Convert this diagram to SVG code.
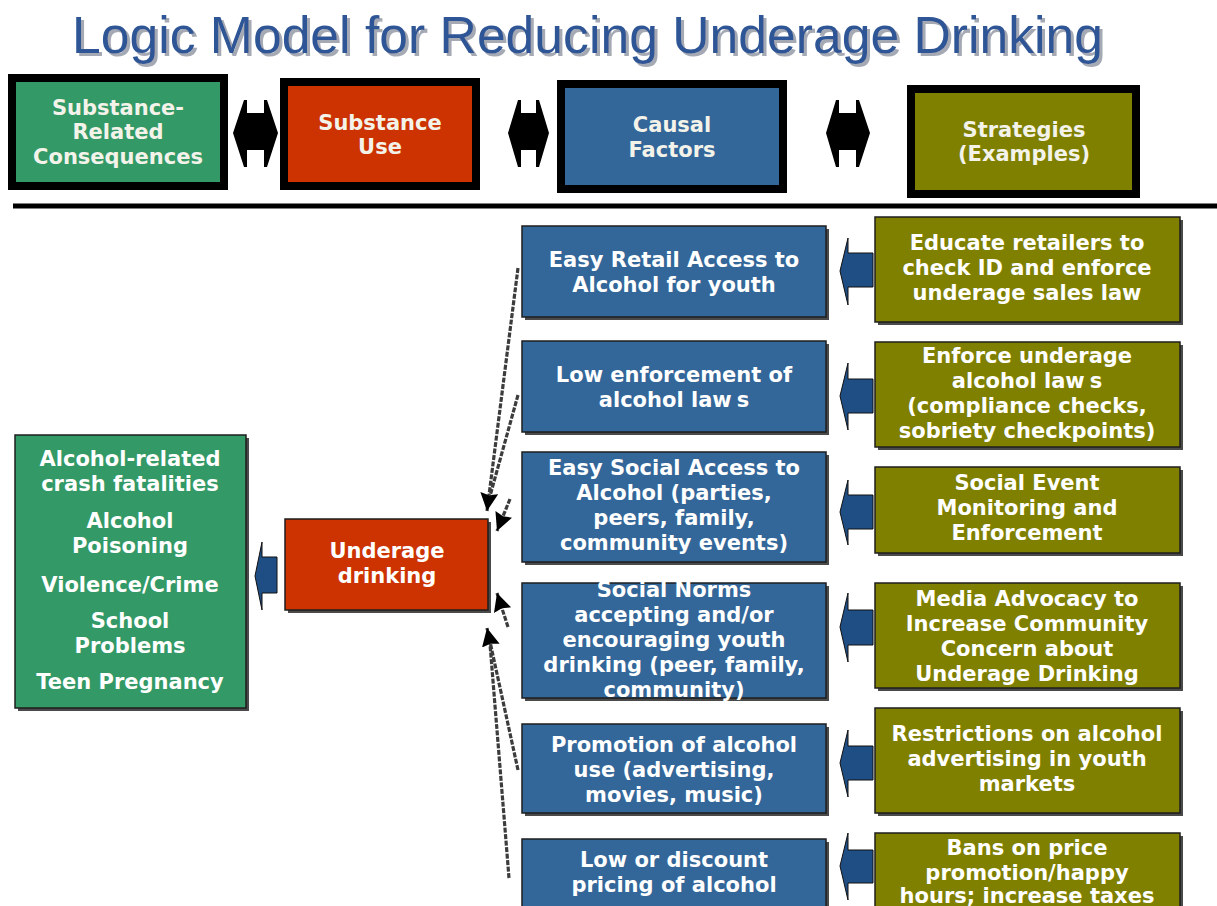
<svg xmlns="http://www.w3.org/2000/svg" width="1217" height="906" viewBox="0 0 1217 906">
  <style>
    .t { font-family: "DejaVu Sans", Verdana, sans-serif; font-weight: bold; font-size: 21px; fill: #ffffff; text-anchor: middle; }
    .hdr { fill: #f3f3ea; }
    .title { font-family: "Liberation Sans", Arial, sans-serif; font-size: 52px; fill: #2f5595; }
    .hbox { stroke: #000000; stroke-width: 8; }
    .box { stroke: #1e1e1e; stroke-width: 1.5; }
    .shadow { fill: #4a4a4a; }
    .green { fill: #339966; }
    .red { fill: #cc3300; }
    .blue { fill: #336699; }
    .olive { fill: #808000; }
    .dbl { fill: #000000; }
    .blk { fill: #1f4e85; stroke: #111111; stroke-width: 1; }
    .dash { fill: none; stroke: #3c3c3c; stroke-width: 3.2; stroke-dasharray: 5 1.5; }
  </style>
  <defs>
    <marker id="head" markerUnits="userSpaceOnUse" markerWidth="22" markerHeight="20" refX="18" refY="9" orient="auto">
      <path d="M0,0 L18,9 L0,18 L2,9 z" fill="#000000"/>
    </marker>
    <filter id="title-shadow" x="-5%" y="-20%" width="110%" height="150%">
      <feDropShadow dx="3" dy="3" stdDeviation="0.6" flood-color="#9aa0ab" flood-opacity="0.9"/>
    </filter>
  </defs>

  <rect width="1217" height="906" fill="#ffffff"/>

  <!-- title -->
  <g id="title">
    <text class="title" x="72" y="53" textLength="1031" lengthAdjust="spacingAndGlyphs" filter="url(#title-shadow)">Logic Model for Reducing Underage Drinking</text>
  </g>

  <!-- header row -->
  <g id="hdr-consequences">
    <rect class="hbox green" x="12" y="78" width="212" height="108"/>
    <text class="t hdr" x="118" y="115">Substance-</text>
    <text class="t hdr" x="118" y="139">Related</text>
    <text class="t hdr" x="118" y="164">Consequences</text>
  </g>
  <g id="hdr-use">
    <rect class="hbox red" x="284" y="82" width="192" height="104"/>
    <text class="t hdr" x="380" y="130">Substance</text>
    <text class="t hdr" x="380" y="154">Use</text>
  </g>
  <g id="hdr-factors">
    <rect class="hbox blue" x="561" y="84" width="222" height="105"/>
    <text class="t hdr" x="672" y="132">Causal</text>
    <text class="t hdr" x="672" y="157">Factors</text>
  </g>
  <g id="hdr-strategies">
    <rect class="hbox olive" x="911" y="89" width="225" height="105"/>
    <text class="t hdr" x="1024" y="137">Strategies</text>
    <text class="t hdr" x="1024" y="161">(Examples)</text>
  </g>

  <!-- double arrows between header boxes -->
  <g id="hdr-links">
    <polygon class="dbl" points="233,133 244,100 247,100 247,113 264,113 264,100 267,100 278,133 267,167 264,167 264,150 247,150 247,167 244,167"/>
    <polygon class="dbl" points="508,133 518,100 521,100 521,113 536,113 536,100 539,100 549,133 539,167 536,167 536,150 521,150 521,167 518,167"/>
    <polygon class="dbl" points="826,133 836,100 839,100 839,113 856,113 856,100 859,100 870,133 859,167 856,167 856,150 839,150 839,167 836,167"/>
  </g>

  <!-- divider -->
  <line x1="13" y1="206" x2="1217" y2="206" stroke="#000000" stroke-width="5"/>

  <!-- consequences -->
  <g id="consequences">
    <rect class="shadow" x="18" y="438" width="231" height="273"/>
    <rect class="box green" x="15" y="435" width="231" height="273"/>
    <text class="t" x="130" y="466">Alcohol-related</text>
    <text class="t" x="130" y="491">crash fatalities</text>
    <text class="t" x="130" y="528">Alcohol</text>
    <text class="t" x="130" y="553">Poisoning</text>
    <text class="t" x="130" y="592">Violence/Crime</text>
    <text class="t" x="130" y="628">School</text>
    <text class="t" x="130" y="653">Problems</text>
    <text class="t" x="130" y="689">Teen Pregnancy</text>
  </g>

  <!-- substance use -->
  <g id="underage-drinking">
    <rect class="shadow" x="288" y="522" width="203" height="91"/>
    <rect class="box red" x="285" y="519" width="203" height="91"/>
    <text class="t" x="387" y="558">Underage</text>
    <text class="t" x="387" y="583">drinking</text>
  </g>

  <!-- causal factors -->
  <g id="factor-retail">
    <rect class="shadow" x="525" y="229" width="304" height="91"/>
    <rect class="box blue" x="522" y="226" width="304" height="91"/>
    <text class="t" x="674" y="267">Easy Retail Access to</text>
    <text class="t" x="674" y="292">Alcohol for youth</text>
  </g>
  <g id="factor-enforcement">
    <rect class="shadow" x="525" y="344" width="304" height="91"/>
    <rect class="box blue" x="522" y="341" width="304" height="91"/>
    <text class="t" x="674" y="382">Low enforcement of</text>
    <text class="t" x="674" y="407">alcohol law<tspan dx="5">s</tspan></text>
  </g>
  <g id="factor-social">
    <rect class="shadow" x="525" y="455" width="304" height="110"/>
    <rect class="box blue" x="522" y="452" width="304" height="110"/>
    <text class="t" x="674" y="475">Easy Social Access to</text>
    <text class="t" x="674" y="500">Alcohol (parties,</text>
    <text class="t" x="674" y="525">peers, family,</text>
    <text class="t" x="674" y="550">community events)</text>
  </g>
  <g id="factor-norms">
    <rect class="shadow" x="525" y="586" width="304" height="115"/>
    <rect class="box blue" x="522" y="583" width="304" height="115"/>
    <text class="t" x="674" y="597">Social Norms</text>
    <text class="t" x="674" y="622">accepting and/or</text>
    <text class="t" x="674" y="647">encouraging  youth</text>
    <text class="t" x="674" y="672">drinking (peer, family,</text>
    <text class="t" x="674" y="697">community)</text>
  </g>
  <g id="factor-promotion">
    <rect class="shadow" x="525" y="727" width="304" height="89"/>
    <rect class="box blue" x="522" y="724" width="304" height="89"/>
    <text class="t" x="674" y="752">Promotion of alcohol</text>
    <text class="t" x="674" y="777">use (advertising,</text>
    <text class="t" x="674" y="802">movies, music)</text>
  </g>
  <g id="factor-pricing">
    <rect class="shadow" x="525" y="842" width="304" height="80"/>
    <rect class="box blue" x="522" y="839" width="304" height="80"/>
    <text class="t" x="674" y="867">Low or discount</text>
    <text class="t" x="674" y="892">pricing of alcohol</text>
  </g>

  <!-- strategies -->
  <g id="strategy-retailers">
    <rect class="shadow" x="878" y="220" width="305" height="105"/>
    <rect class="box olive" x="875" y="217" width="305" height="105"/>
    <text class="t" x="1027" y="250">Educate retailers to</text>
    <text class="t" x="1027" y="275">check ID and enforce</text>
    <text class="t" x="1027" y="300">underage sales law</text>
  </g>
  <g id="strategy-enforce">
    <rect class="shadow" x="878" y="345" width="305" height="105"/>
    <rect class="box olive" x="875" y="342" width="305" height="105"/>
    <text class="t" x="1027" y="363">Enforce underage</text>
    <text class="t" x="1027" y="388">alcohol law<tspan dx="5">s</tspan></text>
    <text class="t" x="1027" y="413">(compliance checks,</text>
    <text class="t" x="1027" y="438">sobriety checkpoints)</text>
  </g>
  <g id="strategy-events">
    <rect class="shadow" x="878" y="470" width="305" height="86"/>
    <rect class="box olive" x="875" y="467" width="305" height="86"/>
    <text class="t" x="1027" y="490">Social Event</text>
    <text class="t" x="1027" y="515">Monitoring and</text>
    <text class="t" x="1027" y="540">Enforcement</text>
  </g>
  <g id="strategy-media">
    <rect class="shadow" x="878" y="586" width="305" height="105"/>
    <rect class="box olive" x="875" y="583" width="305" height="105"/>
    <text class="t" x="1027" y="606">Media Advocacy to</text>
    <text class="t" x="1027" y="631">Increase Community</text>
    <text class="t" x="1027" y="656">Concern about</text>
    <text class="t" x="1027" y="681">Underage Drinking</text>
  </g>
  <g id="strategy-advertising">
    <rect class="shadow" x="878" y="711" width="305" height="105"/>
    <rect class="box olive" x="875" y="708" width="305" height="105"/>
    <text class="t" x="1027" y="741">Restrictions on alcohol</text>
    <text class="t" x="1027" y="766">advertising in youth</text>
    <text class="t" x="1027" y="791">markets</text>
  </g>
  <g id="strategy-pricing">
    <rect class="shadow" x="878" y="836" width="305" height="90"/>
    <rect class="box olive" x="875" y="833" width="305" height="90"/>
    <text class="t" x="1027" y="855">Bans on price</text>
    <text class="t" x="1027" y="880">promotion/happy</text>
    <text class="t" x="1027" y="903">hours; increase taxes</text>
  </g>

  <!-- connectors -->
  <g id="connectors">
    <!-- block arrows: strategy to factor, substance use to consequences -->
    <polygon class="blk" points="873,253 848,253 848,238 840,271 848,305 848,287 873,287"/>
    <polygon class="blk" points="873,379 848,379 848,363 840,396 848,430 848,413 873,413"/>
    <polygon class="blk" points="873,495 848,495 848,480 840,512 848,545 848,529 873,529"/>
    <polygon class="blk" points="873,610 848,610 848,593 840,627 848,662 848,645 873,645"/>
    <polygon class="blk" points="873,746 848,746 848,730 840,763 848,797 848,780 873,780"/>
    <polygon class="blk" points="873,850 848,850 848,833 840,866 848,900 848,883 873,883"/>
    <polygon class="blk" points="277,557 262,557 262,542 255,576 262,610 262,593 277,593"/>

    <!-- dashed influence lines: factor to substance use -->
    <path class="dash" d="M518,268 L487,511" marker-end="url(#head)"/>
    <path class="dash" d="M518,395 L490,496"/>
    <path class="dash" d="M510,499 L497,531" marker-end="url(#head)"/>
    <path class="dash" d="M508,627 L497,593" marker-end="url(#head)"/>
    <path class="dash" d="M518,770 L487,628" marker-end="url(#head)"/>
    <path class="dash" d="M509,878 L490,644"/>
  </g>
</svg>
